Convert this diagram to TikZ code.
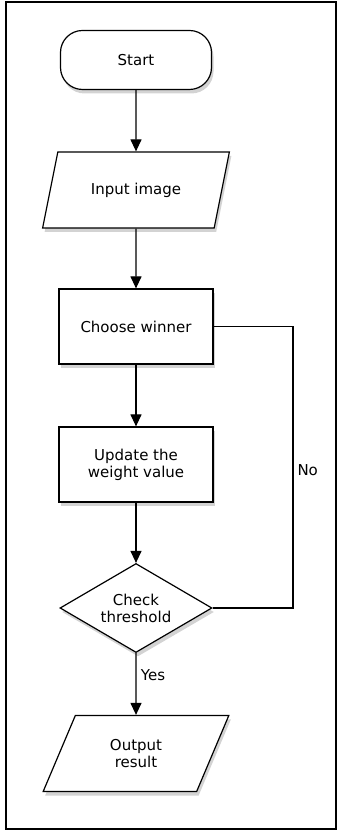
\documentclass[tikz,border=0pt]{standalone}
\usepackage{fontspec}
\setmainfont{DejaVu Sans}
\usetikzlibrary{
    shapes.geometric, arrows.meta, shadows
}

\begin{document}
\begin{tikzpicture}[x=1bp, y=1bp,
    every node/.style={font=\fontsize{15bp}{17bp}\selectfont, align=center},
    flowshape/.style={draw=black, line width=1.2bp, fill=white,
        drop shadow={opacity=0.35, shadow xshift=2bp, shadow yshift=-4bp}},
    termbox/.style={flowshape, rectangle, rounded corners=22bp, minimum width=151bp, minimum height=59bp},
    iobox/.style={flowshape, trapezium, trapezium left angle=66, trapezium right angle=114,
        trapezium stretches=true, minimum width=187bp, minimum height=76bp},
    procbox/.style={flowshape, rectangle, minimum width=154bp, minimum height=75bp},
    decbox/.style={flowshape, diamond, aspect=1.7, inner sep=1bp, minimum width=152bp, minimum height=89bp},
    flowline/.style={line width=1.2bp, -{Triangle[length=12bp, width=11bp]}}
]
    \useasboundingbox (0,0) rectangle (339,831);
    % --- Rahmen ---
    \draw[line width=2bp] (6,2) rectangle (336,829);

    % --- Knoten ---
    \node[termbox] (start) at (136,771) {Start};
    \node[iobox] (input) at (136,641) {Input image};
    \node[procbox] (choose) at (136,504.5) {Choose winner};
    \node[procbox] (update) at (136,366.5) {Update the\\weight value};
    \node[decbox] (check) at (136,223) {Check\\threshold};
    \node[iobox] (output) at (136,77.5) {Output\\result};

    % --- Pfeile ---
    \draw[flowline] (start.south) -- (input.north);
    \draw[flowline] (input.south) -- (choose.north);
    \draw[flowline] (choose.south) -- (update.north);
    \draw[flowline] (update.south) -- (check.north);
    \draw[flowline] (check.south) -- (output.north)
        node[pos=0.36, right=1bp] (yeslabel) {Yes};

    % Rueckfuehrung (No)
    \coordinate (nocorner) at (293,504.5);
    \draw[line width=1.2bp] (choose.east) -- (nocorner) |- (check.east);
    \node[anchor=west] (nolabel) at (294,361) {No};
\end{tikzpicture}
\end{document}
